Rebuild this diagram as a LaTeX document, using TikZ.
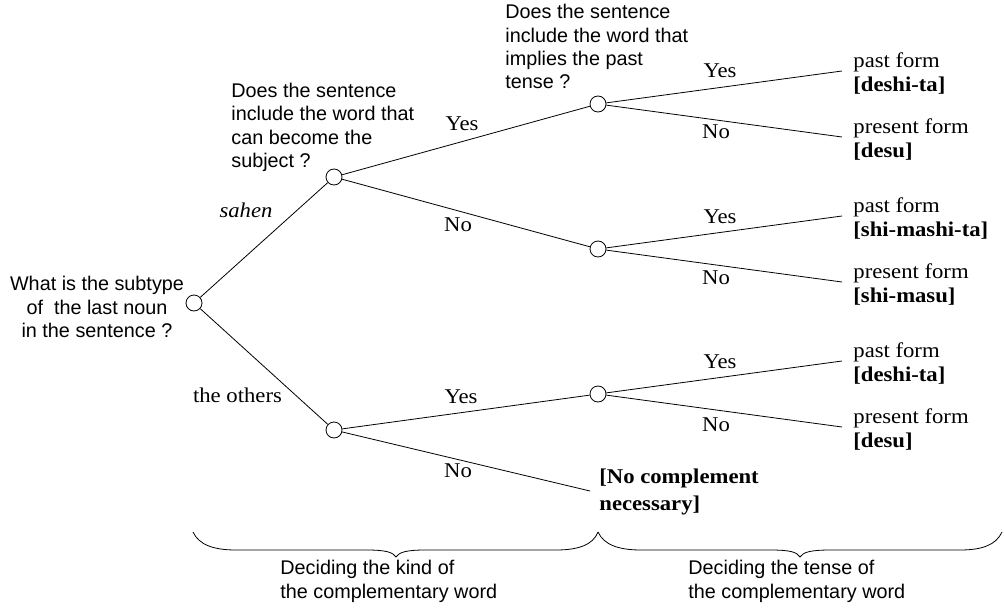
\documentclass[tikz,border=0pt]{standalone}
\usepackage{fontspec}
\setmainfont{Liberation Serif}[FakeStretch=1.08]
\setsansfont{Liberation Sans}
\begin{document}
\begin{tikzpicture}[x=1pt,y=-1pt,line width=0.8pt,
  dec/.style={circle,draw,minimum size=16pt,inner sep=0pt,fill=white},
  lab/.style={inner sep=0pt,font=\fontsize{21}{24}\selectfont},
  qtext/.style={inner sep=0pt,font=\sffamily\fontsize{19.8}{23.4}\selectfont,align=left,anchor=north west},
  leaf/.style={inner sep=0pt,font=\fontsize{21}{24.5}\selectfont,align=left,anchor=north west},
  bracepath/.style={line width=0.8pt}]
\useasboundingbox (0,0) rectangle (1004,610);

% decision nodes
\node[dec] (r) at (194,303) {};
\node[dec] (a) at (334,177) {};
\node[dec] (b) at (334,430) {};
\node[dec] (c) at (598,104) {};
\node[dec] (d) at (598,249) {};
\node[dec] (e) at (598,394) {};

% free ends
\coordinate (c1) at (842,71);
\coordinate (c2) at (842,137);
\coordinate (d1) at (842,216);
\coordinate (d2) at (842,282);
\coordinate (e1) at (842,361);
\coordinate (e2) at (842,427);
\coordinate (bn) at (590,491);

% connectors
\draw (r) -- (a);
\draw (r) -- (b);
\draw (a) -- (c);
\draw (a) -- (d);
\draw (b) -- (e);
\draw (b) -- (bn);
\draw (c) -- (c1);
\draw (c) -- (c2);
\draw (d) -- (d1);
\draw (d) -- (d2);
\draw (e) -- (e1);
\draw (e) -- (e2);

% questions
\node[qtext,align=center,anchor=north] (qr) at (97,276) {What is the subtype\\of~ the last noun\\in the sentence ?};
\node[qtext] (qa) at (231,82.5) {Does the sentence\\include the word that\\can become the\\subject ?};
\node[qtext] (qc) at (505,4) {Does the sentence\\include the word that\\implies the past\\tense ?};

% branch labels
\node[lab] (lsahen) at (246,210) {\itshape sahen};
\node[lab] (lothers) at (237.5,395) {the others};
\node[lab] (lac) at (462,124) {Yes};
\node[lab] (lad) at (458,225) {No};
\node[lab] (lbe) at (461,397) {Yes};
\node[lab] (lbn) at (458,471) {No};
\node[lab] (lc1) at (720,71) {Yes};
\node[lab] (lc2) at (716,132) {No};
\node[lab] (ld1) at (720,217) {Yes};
\node[lab] (ld2) at (716,278) {No};
\node[lab] (le1) at (720,362) {Yes};
\node[lab] (le2) at (716,425) {No};

% leaves
\node[leaf] (tc1) at (853,52) {past form\\\textbf{[deshi-ta]}};
\node[leaf] (tc2) at (853,118) {present form\\\textbf{[desu]}};
\node[leaf] (td1) at (853,197) {past form\\\textbf{[shi-mashi-ta]}};
\node[leaf] (td2) at (853,263) {present form\\\textbf{[shi-masu]}};
\node[leaf] (te1) at (853,342) {past form\\\textbf{[deshi-ta]}};
\node[leaf] (te2) at (853,408) {present form\\\textbf{[desu]}};
\node[leaf,font=\bfseries\fontsize{21}{26.5}\selectfont] (tbn) at (599,469) {[No complement\\necessary]};

% braces
\draw[bracepath] (193,532) .. controls (199,545) and (214,550) .. (236,550)
  -- (366,550) .. controls (385,550) and (393,552) .. (396,557)
  .. controls (399,552) and (407,550) .. (426,550)
  -- (556,550) .. controls (578,550) and (593,545) .. (598,532);
\draw[bracepath] (598,532) .. controls (604,545) and (619,550) .. (641,550)
  -- (770,550) .. controls (790,550) and (797,552) .. (800,557)
  .. controls (803,552) and (811,550) .. (831,550)
  -- (960,550) .. controls (982,550) and (996,545) .. (1002,532);

% bottom captions
\node[qtext] (kind) at (280,560) {Deciding the kind of\\the complementary word};
\node[qtext] (tense) at (688,560) {Deciding the tense of\\the complementary word};
\end{tikzpicture}
\end{document}
